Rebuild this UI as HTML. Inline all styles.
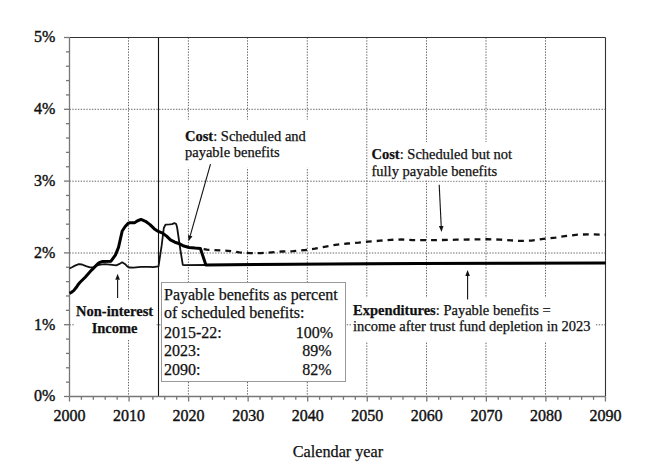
<!DOCTYPE html><html><head><meta charset="utf-8"><style>html,body{margin:0;padding:0;background:#fff;width:648px;height:468px;overflow:hidden}svg{display:block}text{font-family:"Liberation Serif","Times New Roman",serif;fill:#111;stroke:#111;stroke-width:0.25px}.tk text{stroke-width:0.4px}</style></head><body>
<svg width="648" height="468" viewBox="0 0 648 468">
<g stroke="#656565" stroke-width="1" stroke-dasharray="1.4,1.4" fill="none">
<line x1="128.5" y1="37.5" x2="128.5" y2="396.5"/>
<line x1="188.4" y1="37.5" x2="188.4" y2="396.5"/>
<line x1="247.5" y1="37.5" x2="247.5" y2="396.5"/>
<line x1="307.3" y1="37.5" x2="307.3" y2="396.5"/>
<line x1="366.8" y1="37.5" x2="366.8" y2="396.5"/>
<line x1="426.5" y1="37.5" x2="426.5" y2="396.5"/>
<line x1="486" y1="37.5" x2="486" y2="396.5"/>
<line x1="545.5" y1="37.5" x2="545.5" y2="396.5"/>
<line x1="69.5" y1="109.3" x2="605.5" y2="109.3"/>
<line x1="69.5" y1="181.2" x2="605.5" y2="181.2"/>
<line x1="69.5" y1="253.0" x2="605.5" y2="253.0"/>
<line x1="69.5" y1="324.8" x2="605.5" y2="324.8"/>
</g>
<g stroke="#333" stroke-width="1.1" fill="none"><line x1="69.5" y1="37.5" x2="605.5" y2="37.5"/><line x1="605.5" y1="37.5" x2="605.5" y2="396.5"/></g>
<g fill="#fff">
<rect x="182" y="119.6" width="130" height="48.2"/>
<rect x="369" y="142" width="146" height="38.5"/>
<rect x="351" y="298" width="244.5" height="43.5"/>
<rect x="74" y="300.5" width="82.5" height="39"/>
</g>
<rect x="161.5" y="282.5" width="184" height="99" fill="#fff" stroke="#999" stroke-width="1"/>
<line x1="158.5" y1="37.5" x2="158.5" y2="396.5" stroke="#111" stroke-width="1.1"/>
<g stroke="#777" stroke-width="1.3" fill="none"><line x1="69.5" y1="37.5" x2="69.5" y2="396.5"/><line x1="69.5" y1="396.5" x2="605.5" y2="396.5"/>
<line x1="64.0" y1="396.50" x2="69.5" y2="396.50"/>
<line x1="66.0" y1="382.14" x2="69.5" y2="382.14"/>
<line x1="66.0" y1="367.78" x2="69.5" y2="367.78"/>
<line x1="66.0" y1="353.42" x2="69.5" y2="353.42"/>
<line x1="66.0" y1="339.06" x2="69.5" y2="339.06"/>
<line x1="64.0" y1="324.70" x2="69.5" y2="324.70"/>
<line x1="66.0" y1="310.34" x2="69.5" y2="310.34"/>
<line x1="66.0" y1="295.98" x2="69.5" y2="295.98"/>
<line x1="66.0" y1="281.62" x2="69.5" y2="281.62"/>
<line x1="66.0" y1="267.26" x2="69.5" y2="267.26"/>
<line x1="64.0" y1="252.90" x2="69.5" y2="252.90"/>
<line x1="66.0" y1="238.54" x2="69.5" y2="238.54"/>
<line x1="66.0" y1="224.18" x2="69.5" y2="224.18"/>
<line x1="66.0" y1="209.82" x2="69.5" y2="209.82"/>
<line x1="66.0" y1="195.46" x2="69.5" y2="195.46"/>
<line x1="64.0" y1="181.10" x2="69.5" y2="181.10"/>
<line x1="66.0" y1="166.74" x2="69.5" y2="166.74"/>
<line x1="66.0" y1="152.38" x2="69.5" y2="152.38"/>
<line x1="66.0" y1="138.02" x2="69.5" y2="138.02"/>
<line x1="66.0" y1="123.66" x2="69.5" y2="123.66"/>
<line x1="64.0" y1="109.30" x2="69.5" y2="109.30"/>
<line x1="66.0" y1="94.94" x2="69.5" y2="94.94"/>
<line x1="66.0" y1="80.58" x2="69.5" y2="80.58"/>
<line x1="66.0" y1="66.22" x2="69.5" y2="66.22"/>
<line x1="66.0" y1="51.86" x2="69.5" y2="51.86"/>
<line x1="64.0" y1="37.50" x2="69.5" y2="37.50"/>
<line x1="69.50" y1="396.5" x2="69.50" y2="401.5"/>
<line x1="81.41" y1="396.5" x2="81.41" y2="399.8"/>
<line x1="93.32" y1="396.5" x2="93.32" y2="399.8"/>
<line x1="105.23" y1="396.5" x2="105.23" y2="399.8"/>
<line x1="117.14" y1="396.5" x2="117.14" y2="399.8"/>
<line x1="129.05" y1="396.5" x2="129.05" y2="401.5"/>
<line x1="140.96" y1="396.5" x2="140.96" y2="399.8"/>
<line x1="152.87" y1="396.5" x2="152.87" y2="399.8"/>
<line x1="164.78" y1="396.5" x2="164.78" y2="399.8"/>
<line x1="176.69" y1="396.5" x2="176.69" y2="399.8"/>
<line x1="188.60" y1="396.5" x2="188.60" y2="401.5"/>
<line x1="200.51" y1="396.5" x2="200.51" y2="399.8"/>
<line x1="212.42" y1="396.5" x2="212.42" y2="399.8"/>
<line x1="224.33" y1="396.5" x2="224.33" y2="399.8"/>
<line x1="236.24" y1="396.5" x2="236.24" y2="399.8"/>
<line x1="248.15" y1="396.5" x2="248.15" y2="401.5"/>
<line x1="260.06" y1="396.5" x2="260.06" y2="399.8"/>
<line x1="271.97" y1="396.5" x2="271.97" y2="399.8"/>
<line x1="283.88" y1="396.5" x2="283.88" y2="399.8"/>
<line x1="295.79" y1="396.5" x2="295.79" y2="399.8"/>
<line x1="307.70" y1="396.5" x2="307.70" y2="401.5"/>
<line x1="319.61" y1="396.5" x2="319.61" y2="399.8"/>
<line x1="331.52" y1="396.5" x2="331.52" y2="399.8"/>
<line x1="343.43" y1="396.5" x2="343.43" y2="399.8"/>
<line x1="355.34" y1="396.5" x2="355.34" y2="399.8"/>
<line x1="367.25" y1="396.5" x2="367.25" y2="401.5"/>
<line x1="379.16" y1="396.5" x2="379.16" y2="399.8"/>
<line x1="391.07" y1="396.5" x2="391.07" y2="399.8"/>
<line x1="402.98" y1="396.5" x2="402.98" y2="399.8"/>
<line x1="414.89" y1="396.5" x2="414.89" y2="399.8"/>
<line x1="426.80" y1="396.5" x2="426.80" y2="401.5"/>
<line x1="438.71" y1="396.5" x2="438.71" y2="399.8"/>
<line x1="450.62" y1="396.5" x2="450.62" y2="399.8"/>
<line x1="462.53" y1="396.5" x2="462.53" y2="399.8"/>
<line x1="474.44" y1="396.5" x2="474.44" y2="399.8"/>
<line x1="486.35" y1="396.5" x2="486.35" y2="401.5"/>
<line x1="498.26" y1="396.5" x2="498.26" y2="399.8"/>
<line x1="510.17" y1="396.5" x2="510.17" y2="399.8"/>
<line x1="522.08" y1="396.5" x2="522.08" y2="399.8"/>
<line x1="533.99" y1="396.5" x2="533.99" y2="399.8"/>
<line x1="545.90" y1="396.5" x2="545.90" y2="401.5"/>
<line x1="557.81" y1="396.5" x2="557.81" y2="399.8"/>
<line x1="569.72" y1="396.5" x2="569.72" y2="399.8"/>
<line x1="581.63" y1="396.5" x2="581.63" y2="399.8"/>
<line x1="593.54" y1="396.5" x2="593.54" y2="399.8"/>
<line x1="605.45" y1="396.5" x2="605.45" y2="401.5"/>
</g>
<polyline points="69.5,268.5 72.0,267.3 75.0,265.6 78.8,264.2 82.0,264.5 86.0,266.2 90.0,267.3 94.0,267.1 98.0,265.0 102.0,264.3 105.0,264.2 110.0,264.6 116.2,265.4 119.0,264.2 122.2,262.3 125.2,264.2 127.5,266.6 129.5,267.5 133.4,267.6 141.0,266.8 150.0,266.8 153.0,267.1 158.5,266.3 161.6,245.9 163.8,228.0 165.5,224.6 169.5,224.4 172.0,224.1 174.4,223.1 176.2,224.0 177.2,228.0 180.4,250.0 182.8,264.8 184.5,265.1 205.9,265.0 230.0,264.8 330.0,263.9 420.0,263.4 500.0,263.3 605.5,262.9" fill="none" stroke="#111" stroke-width="1.8" stroke-linejoin="round"/>
<polyline points="200.1,248.5 207.0,249.7 228.0,250.8 239.3,252.3 250.0,253.2 260.9,253.2 271.7,252.3 282.5,251.5 293.3,251.2 305.6,250.0 314.9,248.6 323.1,247.1 335.4,244.8 347.8,243.5 358.6,242.7 367.8,241.7 380.2,240.7 391.0,239.8 401.8,239.5 412.6,240.1 433.0,240.2 456.3,239.7 487.2,239.2 500.0,239.6 511.0,240.4 520.4,240.9 531.5,240.6 545.4,238.7 555.6,237.6 566.7,235.9 577.8,234.6 588.9,234.4 605.5,234.6" fill="none" stroke="#111" stroke-width="2.3" stroke-dasharray="5.85,5.03" stroke-dashoffset="7.3"/>
<polyline points="69.5,293.4 71.5,292.3 73.7,290.6 76.0,287.8 78.0,284.8 80.1,282.3 85.2,277.2 91.6,270.1 98.0,263.6 100.0,262.3 102.0,261.6 111.0,261.2 115.5,254.9 118.5,247.4 122.2,231.0 125.2,226.5 128.2,223.2 130.0,222.8 134.5,222.7 137.2,221.0 141.0,219.4 145.5,221.3 150.0,224.6 154.4,228.9 158.3,231.4 162.7,233.2 166.6,236.1 170.4,239.9 174.9,242.2 178.0,243.2 183.0,245.7 189.0,247.5 195.0,248.1 200.4,248.5 205.9,265.0 230.0,264.8 330.0,263.9 420.0,263.4 500.0,263.3 605.5,262.9" fill="none" stroke="#000" stroke-width="3.0" stroke-linejoin="round"/>
<line x1="210.5" y1="164.1" x2="190.24" y2="235.53" stroke="#111" stroke-width="1.1"/><polygon points="188.6,241.3 188.02,234.90 192.45,236.16" fill="#111"/>
<line x1="439.2" y1="184.7" x2="441.21" y2="226.01" stroke="#111" stroke-width="1.1"/><polygon points="441.5,232 438.91,226.12 443.51,225.90" fill="#111"/>
<line x1="467.6" y1="299.5" x2="467.60" y2="276.10" stroke="#111" stroke-width="1.1"/><polygon points="467.6,270.1 469.90,276.10 465.30,276.10" fill="#111"/>
<line x1="117.6" y1="298" x2="117.60" y2="279.80" stroke="#111" stroke-width="1.1"/><polygon points="117.6,273.8 119.90,279.80 115.30,279.80" fill="#111"/>
<g font-size="16" class="tk">
<text x="55.4" y="401.3" text-anchor="end">0%</text>
<text x="55.4" y="329.5" text-anchor="end">1%</text>
<text x="55.4" y="257.7" text-anchor="end">2%</text>
<text x="55.4" y="185.9" text-anchor="end">3%</text>
<text x="55.4" y="114.1" text-anchor="end">4%</text>
<text x="55.4" y="42.3" text-anchor="end">5%</text>
<text x="69.5" y="420.8" text-anchor="middle">2000</text>
<text x="129.1" y="420.8" text-anchor="middle">2010</text>
<text x="188.6" y="420.8" text-anchor="middle">2020</text>
<text x="248.2" y="420.8" text-anchor="middle">2030</text>
<text x="307.7" y="420.8" text-anchor="middle">2040</text>
<text x="367.2" y="420.8" text-anchor="middle">2050</text>
<text x="426.8" y="420.8" text-anchor="middle">2060</text>
<text x="486.4" y="420.8" text-anchor="middle">2070</text>
<text x="545.9" y="420.8" text-anchor="middle">2080</text>
<text x="605.5" y="420.8" text-anchor="middle">2090</text>
</g>
<text x="292.8" y="456.9" font-size="16.2">Calendar year</text>
<g font-size="14.5">
<text x="185" y="141.1"><tspan font-weight="bold">Cost</tspan>: Scheduled and</text>
<text x="185" y="157.1">payable benefits</text>
<text x="371.5" y="158.7"><tspan font-weight="bold">Cost</tspan>: Scheduled but not</text>
<text x="371.5" y="175.8">fully payable benefits</text>
<text x="353" y="314.6"><tspan font-weight="bold">Expenditures</tspan>: Payable benefits =</text>
<text x="353" y="331.2">income after trust fund depletion in 2023</text>
<text x="114.6" y="315.5" text-anchor="middle" font-weight="bold">Non-interest</text>
<text x="114.6" y="333" text-anchor="middle" font-weight="bold">Income</text>
</g>
<g font-size="16">
<text x="164" y="299.7">Payable benefits as percent</text>
<text x="164" y="318.2">of scheduled benefits:</text>
<text x="164" y="337.5">2015-22:</text>
<text x="164" y="355.8">2023:</text>
<text x="164" y="374.6">2090:</text>
<text x="333" y="337.5" text-anchor="end">100%</text>
<text x="331.5" y="355.8" text-anchor="end">89%</text>
<text x="331.5" y="374.6" text-anchor="end">82%</text>
</g>
</svg></body></html>
